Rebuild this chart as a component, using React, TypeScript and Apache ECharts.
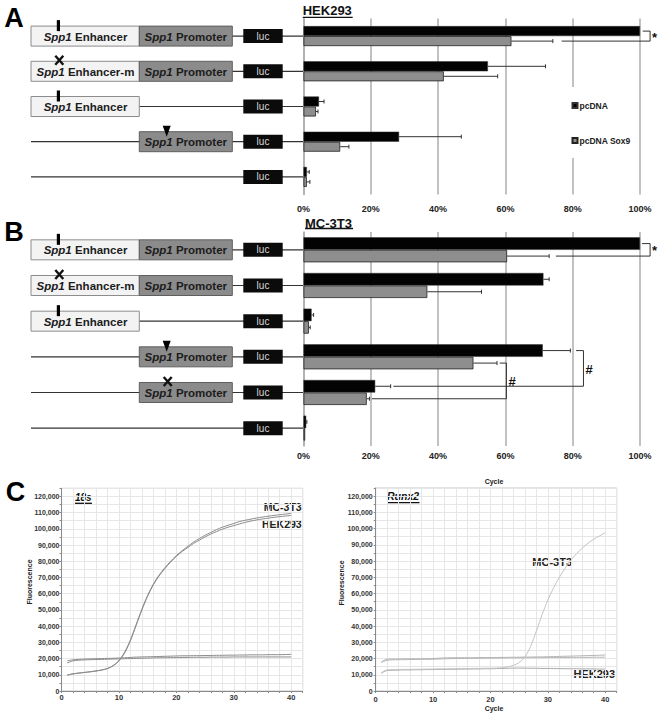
import React, { useEffect, useRef } from 'react';
import * as echarts from 'echarts';

// ---------- Panel A (HEK293) ----------
const rowsA = ['A1', 'A2', 'A3', 'A4', 'A5'];
const pcdnaA = [100, 54.8, 4.6, 28.4, 1.0];
const pcdnaAErr = [100, 71.9, 6.1, 46.9, 1.7];
const sox9A = [61.8, 41.7, 3.7, 10.9, 1.0];
const sox9AErr = [74.1, 57.7, 4.3, 13.5, 1.9];
const constructsA = ['enh+prom', 'enhm+prom', 'enh', 'prom', 'none'];

// ---------- Panel B (MC-3T3) ----------
const rowsB = ['B1', 'B2', 'B3', 'B4', 'B5', 'B6'];
const pcdnaB = [100, 71.3, 2.4, 71.1, 21.3, 0.8];
const pcdnaBErr = [100, 73.0, 3.0, 79.3, 25.9, 1.0];
const sox9B = [60.5, 36.8, 1.6, 50.5, 18.8, 0.5];
const sox9BErr = [73.0, 52.9, 2.0, 57.5, 19.6, 0.5];
const constructsB = ['enh+prom', 'enhm+prom', 'enh', 'prom', 'promm', 'none'];

const sigA = [{ row1: 0, bar1: 0, row2: 0, bar2: 1, xTop: 100.8, xBottom: 76.7, xRight: 103, mark: '*' }];
const sigB = [
  { row1: 0, bar1: 0, row2: 0, bar2: 1, xTop: 100.6, xBottom: 75.0, xRight: 103, mark: '*' },
  { row1: 3, bar1: 0, row2: 4, bar2: 0, xTop: 81.0, xBottom: 26.7, xRight: 83.2, mark: '#' },
  { row1: 3, bar1: 1, row2: 4, bar2: 1, xTop: 58.3, xBottom: 20.3, xRight: 60.3, mark: '#' },
];

// ---------- Panel C (qPCR) ----------
const cycles = [1,2,3,4,5,6,7,8,9,10,11,12,13,14,15,16,17,18,19,20,21,22,23,24,25,26,27,28,29,30,31,32,33,34,35,36,37,38,39,40];
const s18Hek = [9800,10500,11000,11400,11800,12300,12900,13800,15500,18500,23500,31000,40500,50000,58500,65500,71000,75500,79500,83000,86000,88500,91000,93000,95000,96800,98300,99800,101000,102000,103000,104000,104800,105500,106100,106600,107100,107500,107900,108300];
const s18Mc = [9900,10600,11100,11500,11900,12400,13000,13900,15700,18800,24000,31500,41000,50500,59000,66000,71500,76000,80000,83500,86500,89200,91800,94000,96000,97800,99500,101000,102200,103300,104500,105300,106000,106700,107300,107800,108300,108700,109100,109500];
const s18FlatA = [18600,19200,19500,19700,19800,19900,20000,20100,20200,20300,20500,20700,20900,21000,21100,21200,21300,21400,21500,21600,21700,21700,21800,21800,21900,21900,22000,22000,22100,22100,22200,22200,22300,22300,22300,22400,22400,22400,22500,22600];
const s18FlatB = [17300,18600,19000,19200,19300,19400,19500,19600,19700,19800,19900,20000,20100,20200,20300,20400,20500,20500,20600,20600,20700,20700,20800,20800,20800,20900,20900,20900,20900,21000,21000,21000,21000,21000,21000,21000,21000,21000,21000,21000];
const runxMc = [11400,13000,13100,13200,13300,13300,13400,13400,13500,13500,13600,13600,13700,13700,13800,13800,13900,13900,14000,14000,14100,14300,14800,15800,17500,21000,27500,37000,47000,56000,63500,70000,75500,80500,84500,88000,91000,93500,95500,97500];
const runxHek = [10900,12700,12800,12900,13000,13000,13100,13100,13200,13200,13300,13300,13400,13400,13500,13500,13600,13600,13700,13700,13800,13900,14000,14100,14100,14100,14000,14000,13900,13900,13800,13800,13700,13700,13700,13600,13600,13600,13500,13500];
const runxFlatA = [18000,19600,19700,19700,19800,19800,19800,19900,19900,20000,20200,20400,20500,20500,20500,20500,20500,20600,20600,20600,20600,20700,20700,20800,20800,20900,20900,21000,21000,21100,21200,21300,21400,21500,21600,21700,21800,21900,22000,22200];
const runxFlatB = [17500,19000,19200,19300,19300,19400,19400,19500,19500,19600,19700,19800,19900,20000,20000,20100,20100,20200,20200,20300,20300,20300,20400,20400,20400,20500,20500,20500,20500,20600,20600,20600,20600,20700,20700,20700,20700,20800,20800,20800];

const FONT = '"Liberation Sans", Arial, Helvetica, sans-serif';

// layout
const BAR_LEFT = 303.5;
const BAR_W = 336.5;
const A_TOP = 18.5, A_H = 176, A_BW = 10;
const B_TOP = 232, B_H = 214, B_BW = 12.5;

function crossMark(cx: number, cy: number) {
  const h = 4.5, w = 4;
  return [
    { type: 'line', shape: { x1: cx - w, y1: cy - h, x2: cx + w, y2: cy + h }, style: { stroke: '#111', lineWidth: 2.4 } },
    { type: 'line', shape: { x1: cx + w, y1: cy - h, x2: cx - w, y2: cy + h }, style: { stroke: '#111', lineWidth: 2.4 } },
  ];
}

function constructRow(yc: number, kind: string) {
  const els: any[] = [];
  els.push({ type: 'line', shape: { x1: 31, y1: yc, x2: BAR_LEFT, y2: yc }, style: { stroke: '#333', lineWidth: 1.2 } });
  const hasEnh = kind.startsWith('enh');
  const mutEnh = kind.startsWith('enhm');
  const hasProm = kind.includes('prom');
  const mutProm = kind === 'promm';
  const txt = (x: number, text: string) => ({
    type: 'text', x, y: yc + 0.5,
    style: {
      text, fill: '#1c1c1c', fontSize: 11.5, fontWeight: 'bold', fontFamily: FONT,
      align: 'center', verticalAlign: 'middle',
      rich: { i: { fontStyle: 'italic', fontWeight: 'bold', fontSize: 11.5, fontFamily: FONT, fill: '#1c1c1c' } },
    },
  });
  if (hasEnh) {
    els.push({ type: 'rect', shape: { x: 31, y: yc - 10, width: 108.3, height: 20 }, style: { fill: '#f3f3f3', stroke: '#8c8c8c', lineWidth: 1 } });
    els.push(txt(85.5, mutEnh ? '{i|Spp1} Enhancer-m' : '{i|Spp1} Enhancer'));
  }
  if (hasProm) {
    els.push({ type: 'rect', shape: { x: 139.3, y: yc - 10, width: 93, height: 20 }, style: { fill: '#8b8b8b', stroke: '#5e5e5e', lineWidth: 1 } });
    els.push(txt(185.8, '{i|Spp1} Promoter'));
  }
  if (hasEnh && !mutEnh) {
    els.push({ type: 'rect', shape: { x: 56.8, y: yc - 16, width: 3.2, height: 11 }, style: { fill: '#000' } });
  }
  if (mutEnh) els.push(...crossMark(59.3, yc - 11));
  if (kind === 'prom') {
    els.push({ type: 'polygon', shape: { points: [[162.7, yc - 16], [170.7, yc - 16], [166.7, yc - 5]] }, style: { fill: '#000' } });
  }
  if (mutProm) els.push(...crossMark(167.7, yc - 11));
  els.push({ type: 'rect', shape: { x: 243.3, y: yc - 7, width: 39.4, height: 14 }, style: { fill: '#0b0b0b' } });
  els.push({ type: 'text', x: 263, y: yc, style: { text: 'luc', fill: '#d8d8d8', fontSize: 10, fontFamily: FONT, align: 'center', verticalAlign: 'middle' } });
  return els;
}

function errData(vals: number[], errs: number[], s: number) {
  const out: number[][] = [];
  vals.forEach((v, i) => { if (errs[i] > v) out.push([errs[i], i, v, s]); });
  return out;
}

const errRender = (barW: number) => (params: any, api: any) => {
  const err = api.value(0), row = api.value(1), v = api.value(2), s = api.value(3);
  const c0 = api.coord([v, row]);
  const c1 = api.coord([err, row]);
  const y = c0[1] + (s === 0 ? -barW / 2 : barW / 2);
  return {
    type: 'group',
    children: [
      { type: 'line', shape: { x1: c0[0], y1: y, x2: c1[0], y2: y }, style: { stroke: '#333', lineWidth: 1 } },
      { type: 'line', shape: { x1: c1[0], y1: y - 2, x2: c1[0], y2: y + 2 }, style: { stroke: '#333', lineWidth: 1 } },
    ],
  };
};

const bracketRender = (list: any[], barW: number) => (params: any, api: any) => {
  const s = list[params.dataIndex];
  const off = (b: number) => (b === 0 ? -barW / 2 : barW / 2);
  const pt = api.coord([s.xTop, s.row1]);
  const pr = api.coord([s.xRight, s.row1]);
  const pb = api.coord([s.xBottom, s.row2]);
  const y1 = pt[1] + off(s.bar1);
  const y2 = pb[1] + off(s.bar2);
  return {
    type: 'group',
    children: [
      { type: 'polyline', shape: { points: [[pt[0], y1], [pr[0], y1], [pr[0], y2], [pb[0], y2]] }, style: { stroke: '#333', lineWidth: 1, fill: 'none' } },
      { type: 'text', x: pr[0] + 2, y: (y1 + y2) / 2 + 1, style: { text: s.mark, fill: '#111', fontSize: 13, fontWeight: 'bold', fontFamily: FONT, align: 'left', verticalAlign: 'middle' } },
    ],
  };
};

const pctX = (gi: number, margin: number) => ({
  gridIndex: gi, type: 'value', min: 0, max: 100, interval: 20,
  axisLine: { show: false }, axisTick: { show: false },
  axisLabel: { formatter: '{value}%', fontSize: 9, fontWeight: 'bold', color: '#222', fontFamily: FONT, margin },
  splitLine: { show: true, lineStyle: { color: '#adadad', width: 1.5 } },
});
const catY = (gi: number, data: string[]) => ({
  gridIndex: gi, type: 'category', data, inverse: true,
  axisLabel: { show: false }, axisTick: { show: false },
  axisLine: { show: true, lineStyle: { color: '#adadad', width: 1.5 } },
});
const cycX = (gi: number, margin: number) => ({
  gridIndex: gi, type: 'value', min: 0, max: 42, interval: 2,
  axisLine: { show: true, lineStyle: { color: '#8a8a8a' } },
  axisTick: { show: true, length: 2, lineStyle: { color: '#8a8a8a' } },
  axisLabel: { formatter: (v: number) => (v % 10 === 0 ? String(v) : ''), fontSize: 7.5, fontWeight: 'bold', color: '#333', fontFamily: FONT, margin },
  splitLine: { show: true, lineStyle: { color: '#e6e6e6', width: 1 } },
});
const fluoY = (gi: number, margin: number) => ({
  gridIndex: gi, type: 'value', min: 0, max: 125000, interval: 5000,
  axisLine: { show: true, lineStyle: { color: '#8a8a8a' } },
  axisTick: { show: true, length: 2, lineStyle: { color: '#8a8a8a' } },
  axisLabel: { formatter: (v: number) => (v % 10000 === 0 ? v.toLocaleString('en-US') : ''), fontSize: 7, fontWeight: 'bold', color: '#333', fontFamily: FONT, margin },
  splitLine: { show: true, lineStyle: { color: '#e6e6e6', width: 1 } },
});

const lineSeries = (name: string, arr: number[], gi: number, color: string) => ({
  name, type: 'line', xAxisIndex: gi, yAxisIndex: gi,
  data: cycles.map((c, i) => [c, arr[i]]),
  symbol: 'none', smooth: 0.3, silent: true,
  lineStyle: { color, width: 1 },
});

function buildOption() {
  const bandA = A_H / rowsA.length;
  const bandB = B_H / rowsB.length;
  const graphics: any[] = [];
  constructsA.forEach((k, i) => graphics.push(...constructRow(A_TOP + bandA * (i + 0.5), k)));
  constructsB.forEach((k, i) => graphics.push(...constructRow(B_TOP + bandB * (i + 0.5), k)));

  const letter = (t: string, x: number, y: number) => ({ type: 'text', x, y, style: { text: t, fill: '#000', fontSize: 27, fontWeight: 'bold', fontFamily: FONT, align: 'center', verticalAlign: 'middle' } });
  graphics.push(letter('A', 14, 17.5), letter('B', 14, 231.5), letter('C', 15.5, 492));

  const title = (t: string, x: number, y: number, size: number, w: number, uy: number, italic = false) => [
    { type: 'text', x, y, style: { text: t, fill: '#111', fontSize: size, fontWeight: 'bold', fontStyle: italic ? 'italic' : 'normal', fontFamily: FONT, align: 'left', verticalAlign: 'middle' } },
    { type: 'line', shape: { x1: x, y1: uy, x2: x + w, y2: uy }, style: { stroke: '#111', lineWidth: 1.3 } },
  ];
  graphics.push(...title('HEK293', 302.7, 10.5, 13, 50, 17.3));
  graphics.push(...title('MC-3T3', 305, 223, 13, 48, 228.5));
  graphics.push(...title('18s', 75, 497, 10, 17, 503.3, true));
  graphics.push(...title('Runx2', 387, 496, 10.5, 32.5, 502.7, true));

  const small = (t: string, x: number, y: number, size: number, align = 'center', rot = 0) => ({
    type: 'text', x, y, rotation: rot,
    style: { text: t, fill: '#222', fontSize: size, fontWeight: 'bold', fontFamily: FONT, align, verticalAlign: 'middle' },
  });
  graphics.push(small('Fluorescence', 29.3, 582, 7, 'center', Math.PI / 2));
  graphics.push(small('Fluorescence', 341.7, 583, 7, 'center', Math.PI / 2));
  graphics.push(small('Cycle', 494, 481.7, 7));
  graphics.push(small('Cycle', 494, 708, 7));
  graphics.push(small('MC-3T3', 301.7, 506.5, 10.5, 'right'));
  graphics.push(small('HEK293', 301.7, 524, 10.5, 'right'));
  graphics.push(small('MC-3T3', 532.3, 561.7, 11, 'left'));
  graphics.push(small('HEK293', 615, 673.7, 11, 'right'));

  const barStyleBlack = { color: '#030303', borderColor: '#333', borderWidth: 0.5 };
  const barStyleGray = { color: '#8e8e8e', borderColor: '#222', borderWidth: 0.8 };

  return {
    animation: false,
    textStyle: { fontFamily: FONT },
    grid: [
      { left: BAR_LEFT, top: A_TOP, width: BAR_W, height: A_H },
      { left: BAR_LEFT, top: B_TOP, width: BAR_W, height: B_H },
      { left: 61.5, top: 488.3, width: 241.2, height: 202.7, show: true, borderColor: '#c4c4c4', borderWidth: 1 },
      { left: 375.7, top: 488, width: 241, height: 203, show: true, borderColor: '#c4c4c4', borderWidth: 1 },
    ],
    xAxis: [pctX(0, 10), pctX(1, 5.5), cycX(2, 2), cycX(3, 4)],
    yAxis: [catY(0, rowsA), catY(1, rowsB), fluoY(2, 2), fluoY(3, 3)],
    legend: {
      data: ['pcDNA', 'pcDNA Sox9'],
      orient: 'vertical', left: 567.5, top: 87,
      backgroundColor: '#fff', padding: [14, 8, 13, 4], itemGap: 26,
      itemWidth: 5, itemHeight: 5, icon: 'rect', selectedMode: false,
      textStyle: { fontSize: 8.5, fontWeight: 'bold', color: '#222', fontFamily: FONT, padding: [0, 0, 0, -3] },
    },
    series: [
      { name: 'pcDNA', type: 'bar', xAxisIndex: 0, yAxisIndex: 0, data: pcdnaA, barWidth: A_BW, barGap: '0%', itemStyle: barStyleBlack, silent: true },
      { name: 'pcDNA Sox9', type: 'bar', xAxisIndex: 0, yAxisIndex: 0, data: sox9A, barWidth: A_BW, barGap: '0%', itemStyle: barStyleGray, silent: true },
      { name: 'pcDNA', type: 'bar', xAxisIndex: 1, yAxisIndex: 1, data: pcdnaB, barWidth: B_BW, barGap: '0%', itemStyle: barStyleBlack, silent: true },
      { name: 'pcDNA Sox9', type: 'bar', xAxisIndex: 1, yAxisIndex: 1, data: sox9B, barWidth: B_BW, barGap: '0%', itemStyle: barStyleGray, silent: true },
      { type: 'custom', xAxisIndex: 0, yAxisIndex: 0, z: 5, clip: false, silent: true, renderItem: errRender(A_BW), data: [...errData(pcdnaA, pcdnaAErr, 0), ...errData(sox9A, sox9AErr, 1)] },
      { type: 'custom', xAxisIndex: 1, yAxisIndex: 1, z: 5, clip: false, silent: true, renderItem: errRender(B_BW), data: [...errData(pcdnaB, pcdnaBErr, 0), ...errData(sox9B, sox9BErr, 1)] },
      { type: 'custom', xAxisIndex: 0, yAxisIndex: 0, z: 5, clip: false, silent: true, renderItem: bracketRender(sigA, A_BW), data: sigA.map((s) => [s.xTop, s.row1]) },
      { type: 'custom', xAxisIndex: 1, yAxisIndex: 1, z: 5, clip: false, silent: true, renderItem: bracketRender(sigB, B_BW), data: sigB.map((s) => [s.xTop, s.row1]) },
      lineSeries('18s flat 1', s18FlatA, 2, '#8c8c8c'),
      lineSeries('18s flat 2', s18FlatB, 2, '#8c8c8c'),
      lineSeries('18s HEK293', s18Hek, 2, '#8c8c8c'),
      lineSeries('18s MC-3T3', s18Mc, 2, '#8c8c8c'),
      lineSeries('Runx2 flat 1', runxFlatA, 3, '#b4b4b4'),
      lineSeries('Runx2 flat 2', runxFlatB, 3, '#b4b4b4'),
      lineSeries('Runx2 HEK293', runxHek, 3, '#a8a8a8'),
      lineSeries('Runx2 MC-3T3', runxMc, 3, '#c4c4c4'),
    ],
    graphic: { elements: graphics },
  };
}

export default function App() {
  const ref = useRef<HTMLDivElement>(null);
  useEffect(() => {
    if (!ref.current) return;
    const chart = echarts.init(ref.current, undefined, { renderer: 'svg' });
    chart.setOption(buildOption() as any);
    return () => chart.dispose();
  }, []);
  return <div ref={ref} style={{ position: 'absolute', left: 0, top: 0, width: 662, height: 715, background: '#fff' }} />;
}
